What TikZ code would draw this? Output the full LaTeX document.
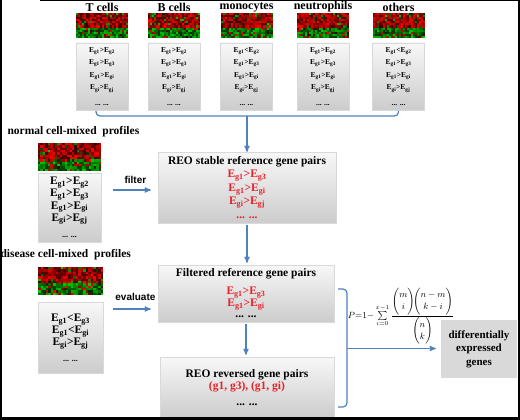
\documentclass[tikz,border=0pt]{standalone}
\usepackage{fontspec}
\setmainfont{Liberation Serif}
\setsansfont{Liberation Sans}
\usepackage{amsmath}
\usepackage{tikz}
\usetikzlibrary{arrows,calc}

\definecolor{flowblue}{RGB}{79,129,189}
\definecolor{pairred}{RGB}{232,32,40}

\newcommand{\gp}[3]{E\textsubscript{g#1}#2E\textsubscript{g#3}}
\newcommand{\rgp}[3]{\textcolor{pairred}{\gp{#1}{#2}{#3}}}
% heat map: left, top, width, height
\newcommand{\heatmap}[4]{%
  \fill[black] (#1,#2) rectangle ++(#3,#4);
  \foreach \hc in {0,...,25}{
    \foreach \hr in {0,...,11}{
      \pgfmathrandominteger{\s}{20}{100}
      \pgfmathrandominteger{\f}{0}{7}
      \ifnum\hr<7
        \ifnum\f=0 \def\hue{green!80!black}\else\def\hue{red}\fi
      \else
        \ifnum\f=0 \def\hue{red}\else\def\hue{green!80!black}\fi
      \fi
      \fill[\hue!\s!black] ({#1+\hc*(#3)/26},{#2+\hr*(#4)/12}) rectangle ++({(#3)/26},{(#4)/12});
    }
  }
}

\tikzset{
  >=stealth',
  flow/.style={->, draw=flowblue, line width=1.2pt},
  brace/.style={draw=flowblue, line width=1.2pt, rounded corners=4pt},
  pairbox/.style={draw=gray!30, top color=gray!6, bottom color=gray!40, align=center, inner sep=0pt},
  cellbox/.style={pairbox, minimum width=52pt, minimum height=67pt, font=\bfseries\fontsize{7.5}{12.5}\selectfont},
  mixbox/.style={pairbox, font=\bfseries\fontsize{11.5}{9.5}\selectfont},
  stepbox/.style={pairbox, font=\bfseries\fontsize{11.5}{13.5}\selectfont},
  celltitle/.style={font=\bfseries\fontsize{12}{12}\selectfont},
  mixtitle/.style={font=\bfseries\fontsize{11.5}{12}\selectfont, anchor=west},
  verb/.style={font=\sffamily\bfseries\fontsize{10}{12}\selectfont},
  degbox/.style={fill=gray!30, align=center, minimum width=76pt, minimum height=58pt, font=\bfseries\fontsize{11}{13.5}\selectfont}
}

\begin{document}
\begin{tikzpicture}[x=1pt,y=-1pt]
\useasboundingbox (0,0) rectangle (520,420);
\pgfmathsetseed{42}
% cell types
\foreach \lab/\cx/\op [count=\i] in {T cells/102/>, B cells/174/>, monocytes/246.5/<, neutrophils/323/>, others/398.5/<}{
  \node[celltitle] (title\i) at (\cx,7) {\lab};
  \heatmap{\cx-26}{13}{52}{25}
  \node[cellbox] (cell\i) at (\cx,76.5) {\gp{1}{\op}{2}\\\gp{1}{>}{3}\\\gp{1}{>}{i}\\\gp{i}{>}{j}\\[3pt]... ...};
}
\coordinate (brL) at (96,111);
\coordinate (brR) at (398.5,111);
\coordinate (join) at (247,116);
\draw[brace] (brL) -- (brL |- join) -- (brR |- join) -- (brR);

% normal profiles
\node[mixtitle] (normaltitle) at (4,132) {normal cell-mixed~~profiles};
\heatmap{38}{143}{63}{28}
\node[mixbox, minimum width=63pt, minimum height=69pt] (normal) at (69.5,207.5) {\gp{1}{>}{2}\\\gp{1}{>}{3}\\\gp{1}{>}{i}\\\gp{i}{>}{j}\\[7pt]{\fontsize{8}{9}\selectfont... ...}};

\node[stepbox, minimum width=178pt, minimum height=71pt] (stable) at (247,187.5) {REO stable reference gene pairs\\\rgp{1}{>}{3}\\\rgp{1}{>}{i}\\\rgp{i}{>}{j}\\\textcolor{pairred}{... ...}};
\draw[flow] (join) -- (stable);
\coordinate (filterstart) at (113,190);
\draw[flow, shorten >=7pt] (filterstart) -- (filterstart -| stable.west) node[verb, midway, above=2pt] (filterlabel) {filter};

% disease profiles
\node[mixtitle] (diseasetitle) at (-3,255) {disease cell-mixed~~profiles};
\heatmap{38}{267}{65}{28}
\node[mixbox, font=\bfseries\fontsize{11.5}{12}\selectfont, minimum width=65pt, minimum height=71pt] (disease) at (70.5,337.5) {\gp{1}{<}{3}\\\gp{1}{<}{i}\\\gp{i}{>}{j}\\[4pt]{\fontsize{8}{9}\selectfont... ...}};

\node[stepbox, font=\bfseries\fontsize{11.5}{11.5}\selectfont, minimum width=176pt, minimum height=57pt] (filtered) at (246,293.5) {Filtered reference gene pairs\\[6.5pt]\rgp{1}{>}{3}\\\rgp{1}{>}{i}\\... ...};
\draw[flow, shorten <=2pt, shorten >=2pt] (stable.south) -- (stable.south |- filtered.north);
\coordinate (evalstart) at (113,309);
\draw[flow, shorten >=7pt] (evalstart) -- (evalstart -| filtered.west) node[verb, midway, above=4pt] (evallabel) {evaluate};

\node[stepbox, font=\bfseries\fontsize{11.5}{12}\selectfont, minimum width=174pt, minimum height=61pt] (reversed) at (247,387.5) {REO reversed gene pairs\\\textcolor{pairred}{(g1, g3), (g1, gi)}\\[4pt]... ...};
\draw[flow, shorten <=2pt, shorten >=2pt] (filtered.south) -- (filtered.south |- reversed.north);

% p value and result
\coordinate (pjoin) at (347,348.5);
\coordinate (brT) at (338,289);
\coordinate (brB) at (338,407);
\draw[brace] (brT) -- (brT -| pjoin) -- (brB -| pjoin) -- (brB);
\node[inner sep=0pt] (pvalue) at (401,316) {\fontsize{9}{10}\selectfont $P{=}1{-}\sum\limits_{i=0}^{x-1}\dfrac{\dbinom{m}{i}\!\dbinom{n-m}{k-i}}{\dbinom{n}{k}}$};
\node[degbox] (deg) at (479,349) {differentially\\expressed\\genes};
\draw[flow, shorten >=5pt] (pjoin) -- (pjoin -| deg.west);

% frame
\draw[line width=1.5pt] (0.75,0) -- (0.75,420);
\draw[line width=3pt] (0,418.5) -- (520,418.5);
\draw[line width=2.5pt] (518.75,0) -- (518.75,420);
\draw[line width=1pt] (40,0.5) -- (520,0.5);
\end{tikzpicture}
\end{document}
